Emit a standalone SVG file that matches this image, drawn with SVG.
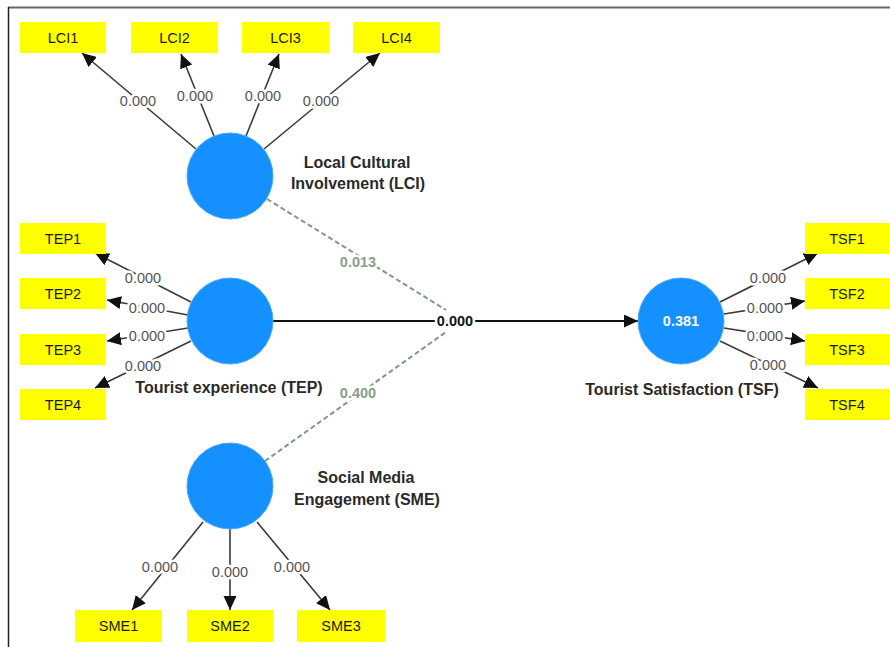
<svg xmlns="http://www.w3.org/2000/svg" width="890" height="647" viewBox="0 0 890 647">
<style>
.box{fill:#ffff00}
.bt{font-family:"Liberation Sans",Arial,sans-serif;font-size:14.5px;fill:#1a1a1a;text-anchor:middle}
.lv{fill:#1490ff;stroke:#4aa8ff;stroke-width:1}
.nl{font-family:"Liberation Sans",Arial,sans-serif;font-size:16px;font-weight:bold;fill:#2a2a2a;text-anchor:middle}
.ld{stroke:#3a3a3a;stroke-width:1.6;fill:none}
.lt{font-family:"Liberation Sans",Arial,sans-serif;font-size:14.5px;fill:#555;text-anchor:middle;stroke:#fff;stroke-width:5;paint-order:stroke;stroke-linejoin:round}
.mod{stroke:#7d9a7d;stroke-width:2;stroke-dasharray:5 3;fill:none}
.mt{font-family:"Liberation Sans",Arial,sans-serif;font-size:14.5px;font-weight:bold;fill:#8a9e8a;text-anchor:middle;stroke:#fff;stroke-width:5;paint-order:stroke}
.pt{font-family:"Liberation Sans",Arial,sans-serif;font-size:14.5px;font-weight:bold;fill:#111;text-anchor:middle;stroke:#fff;stroke-width:5;paint-order:stroke}
</style>
<defs>
<marker id="ah" markerUnits="userSpaceOnUse" markerWidth="16" markerHeight="14" refX="14" refY="6.5" orient="auto">
<path d="M0,0 L14,6.5 L0,13 z" fill="#111"/>
</marker>
</defs>
<rect x="0" y="0" width="890" height="647" fill="#fff"/>
<line x1="8" y1="7.5" x2="890" y2="7.5" stroke="#6a6a6a" stroke-width="2"/>
<line x1="8.5" y1="7" x2="8.5" y2="647" stroke="#222" stroke-width="1.5"/>

<g id="connectors">
<line class="mod" x1="267" y1="199" x2="446" y2="310"/>
<line class="mod" x1="265" y1="461" x2="446" y2="332"/>
<line x1="273" y1="321" x2="638" y2="321" stroke="#111" stroke-width="2" marker-end="url(#ah)"/>
<text class="pt" x="455" y="326">0.000</text>
<text class="mt" x="358" y="267">0.013</text>
<text class="mt" x="358" y="398">0.400</text>

<line class="ld" x1="196" y1="149" x2="82" y2="53" marker-end="url(#ah)"/>
<line class="ld" x1="214" y1="136" x2="181" y2="54" marker-end="url(#ah)"/>
<line class="ld" x1="246" y1="136" x2="279" y2="54" marker-end="url(#ah)"/>
<line class="ld" x1="264" y1="149" x2="380" y2="53" marker-end="url(#ah)"/>
<text class="lt" x="138" y="106">0.000</text>
<text class="lt" x="195" y="101">0.000</text>
<text class="lt" x="263" y="101">0.000</text>
<text class="lt" x="321" y="106">0.000</text>

<line class="ld" x1="191" y1="302" x2="95" y2="253" marker-end="url(#ah)"/>
<line class="ld" x1="188" y1="315" x2="107" y2="300" marker-end="url(#ah)"/>
<line class="ld" x1="188" y1="328" x2="107" y2="341" marker-end="url(#ah)"/>
<line class="ld" x1="191" y1="341" x2="95" y2="388" marker-end="url(#ah)"/>
<text class="lt" x="143" y="283">0.000</text>
<text class="lt" x="147" y="313">0.000</text>
<text class="lt" x="147" y="341">0.000</text>
<text class="lt" x="143" y="371">0.000</text>

<line class="ld" x1="720" y1="302" x2="818" y2="253" marker-end="url(#ah)"/>
<line class="ld" x1="724" y1="314" x2="805" y2="301" marker-end="url(#ah)"/>
<line class="ld" x1="724" y1="328" x2="805" y2="341" marker-end="url(#ah)"/>
<line class="ld" x1="720" y1="341" x2="818" y2="388" marker-end="url(#ah)"/>
<text class="lt" x="768" y="283">0.000</text>
<text class="lt" x="765" y="313">0.000</text>
<text class="lt" x="765" y="341">0.000</text>
<text class="lt" x="768" y="370">0.000</text>

<line class="ld" x1="203" y1="522" x2="132" y2="610" marker-end="url(#ah)"/>
<line class="ld" x1="230" y1="529" x2="230" y2="610" marker-end="url(#ah)"/>
<line class="ld" x1="257" y1="522" x2="330" y2="610" marker-end="url(#ah)"/>
<text class="lt" x="160" y="572">0.000</text>
<text class="lt" x="230" y="577">0.000</text>
<text class="lt" x="292" y="572">0.000</text>
</g>

<g id="LCI">
<circle class="lv" cx="230" cy="176" r="43"/>
<text class="nl" x="357" y="168">Local Cultural</text>
<text class="nl" x="358" y="189">Involvement (LCI)</text>
</g>
<g id="TEP">
<circle class="lv" cx="230" cy="321" r="43"/>
<text class="nl" x="229" y="393">Tourist experience (TEP)</text>
</g>
<g id="SME">
<circle class="lv" cx="230" cy="486" r="43"/>
<text class="nl" x="366" y="483">Social Media</text>
<text class="nl" x="367" y="505">Engagement (SME)</text>
</g>
<g id="TSF">
<circle class="lv" cx="681" cy="321" r="43"/>
<text x="681" y="326" font-family="Liberation Sans, Arial, sans-serif" font-size="14.5" font-weight="bold" fill="#fff" text-anchor="middle">0.381</text>
<text class="nl" x="682" y="395">Tourist Satisfaction (TSF)</text>
</g>

<g id="LCI1"><rect class="box" x="20" y="22" width="86" height="31"/><text class="bt" x="63" y="42.5">LCI1</text></g>
<g id="LCI2"><rect class="box" x="131" y="22" width="87" height="31"/><text class="bt" x="174.5" y="42.5">LCI2</text></g>
<g id="LCI3"><rect class="box" x="242" y="22" width="87" height="31"/><text class="bt" x="285.5" y="42.5">LCI3</text></g>
<g id="LCI4"><rect class="box" x="353" y="22" width="87" height="31"/><text class="bt" x="396.5" y="42.5">LCI4</text></g>

<g id="TEP1"><rect class="box" x="20" y="223" width="86" height="31"/><text class="bt" x="63" y="243.5">TEP1</text></g>
<g id="TEP2"><rect class="box" x="20" y="278" width="86" height="31"/><text class="bt" x="63" y="298.5">TEP2</text></g>
<g id="TEP3"><rect class="box" x="20" y="334" width="86" height="31"/><text class="bt" x="63" y="354.5">TEP3</text></g>
<g id="TEP4"><rect class="box" x="20" y="389" width="86" height="31"/><text class="bt" x="63" y="409.5">TEP4</text></g>

<g id="TSF1"><rect class="box" x="805" y="223" width="85" height="31"/><text class="bt" x="847" y="243.5">TSF1</text></g>
<g id="TSF2"><rect class="box" x="805" y="278" width="85" height="31"/><text class="bt" x="847" y="298.5">TSF2</text></g>
<g id="TSF3"><rect class="box" x="805" y="334" width="85" height="31"/><text class="bt" x="847" y="354.5">TSF3</text></g>
<g id="TSF4"><rect class="box" x="805" y="389" width="85" height="31"/><text class="bt" x="847" y="409.5">TSF4</text></g>

<g id="SME1"><rect class="box" x="75" y="610" width="87" height="32"/><text class="bt" x="118.5" y="631">SME1</text></g>
<g id="SME2"><rect class="box" x="187" y="610" width="86" height="32"/><text class="bt" x="230" y="631">SME2</text></g>
<g id="SME3"><rect class="box" x="297" y="610" width="88" height="32"/><text class="bt" x="341" y="631">SME3</text></g>
</svg>
